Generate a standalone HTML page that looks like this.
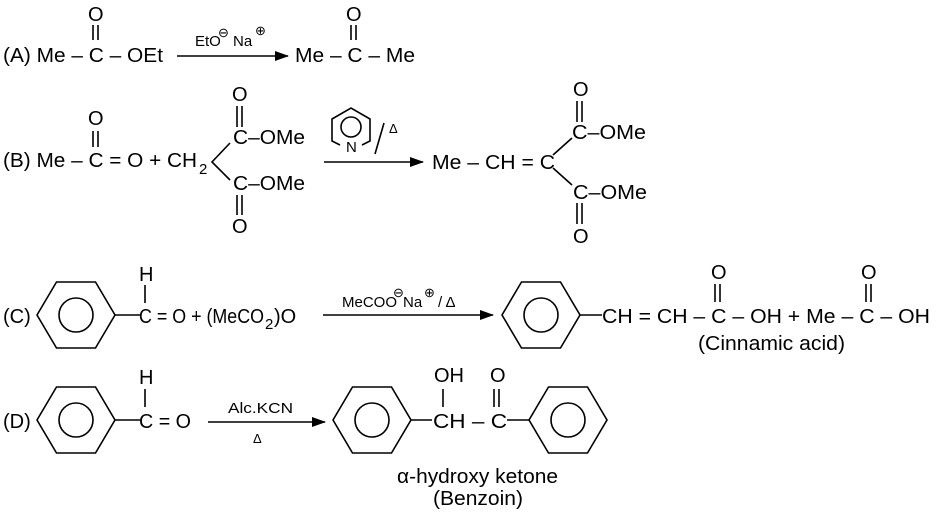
<!DOCTYPE html>
<html><head><meta charset="utf-8"><style>
body{margin:0;background:#fff}
svg{display:block}
text{font-family:"Liberation Sans",sans-serif;fill:#000}
.m{font-size:20px}
.s{font-size:15px}
.x{font-size:13px}
</style></head><body>
<svg width="937" height="518" viewBox="0 0 937 518" xmlns="http://www.w3.org/2000/svg">
<defs><marker id="ah" markerWidth="14" markerHeight="10" refX="13" refY="5" orient="auto" markerUnits="userSpaceOnUse"><path d="M0,0 L14,5 L0,10 Z" fill="#000"/></marker></defs>
<g stroke="#000" stroke-width="1.6" fill="none">
<!-- A -->
<line x1="93" y1="25" x2="93" y2="40"/><line x1="98" y1="25" x2="98" y2="40"/>
<line x1="351" y1="25" x2="351" y2="40"/><line x1="356" y1="25" x2="356" y2="40"/>
<line x1="177" y1="56" x2="288" y2="56" marker-end="url(#ah)"/>
<!-- B -->
<line x1="93" y1="131" x2="93" y2="147"/><line x1="98" y1="131" x2="98" y2="147"/>
<line x1="237" y1="106" x2="237" y2="127"/><line x1="242" y1="106" x2="242" y2="127"/>
<line x1="237" y1="195" x2="237" y2="215"/><line x1="242" y1="195" x2="242" y2="215"/>
<polyline points="230,143 212,162 230,180"/>
<polyline points="340,145 332,141 332,119 351,108 370,119 370,141 362,145"/>
<circle cx="351" cy="127" r="10"/>
<line x1="375" y1="154" x2="384" y2="123"/>
<line x1="324" y1="162" x2="423" y2="162" marker-end="url(#ah)"/>
<line x1="577" y1="101" x2="577" y2="122"/><line x1="582" y1="101" x2="582" y2="122"/>
<line x1="577" y1="203" x2="577" y2="224"/><line x1="582" y1="203" x2="582" y2="224"/>
<line x1="553" y1="155" x2="572" y2="138"/><line x1="553" y1="168" x2="572" y2="185"/>
<!-- C -->
<polygon points="37,315 56.5,282 95.5,282 115,315 95.5,348 56.5,348"/>
<circle cx="76" cy="315" r="17"/>
<line x1="115" y1="315" x2="140" y2="315"/>
<line x1="145" y1="285" x2="145" y2="303"/>
<line x1="323" y1="315" x2="493" y2="315" marker-end="url(#ah)"/>
<polygon points="502,315 521.5,282 560.5,282 580,315 560.5,348 521.5,348"/>
<circle cx="541" cy="315" r="17"/>
<line x1="580" y1="315" x2="602" y2="315"/>
<line x1="715" y1="284" x2="715" y2="302"/><line x1="720" y1="284" x2="720" y2="302"/>
<line x1="866" y1="284" x2="866" y2="302"/><line x1="871" y1="284" x2="871" y2="302"/>
<!-- D -->
<polygon points="37,420 56.5,387 95.5,387 115,420 95.5,453 56.5,453"/>
<circle cx="76" cy="420" r="17"/>
<line x1="115" y1="420" x2="140" y2="420"/>
<line x1="145" y1="389" x2="145" y2="407"/>
<line x1="208" y1="422" x2="325" y2="422" marker-end="url(#ah)"/>
<polygon points="333,420 352.5,387 391.5,387 411,420 391.5,453 352.5,453"/>
<circle cx="372" cy="420" r="17"/>
<line x1="411" y1="420" x2="432" y2="420"/>
<line x1="443" y1="389" x2="443" y2="407"/>
<line x1="494" y1="389" x2="494" y2="407"/><line x1="499" y1="389" x2="499" y2="407"/>
<line x1="507" y1="420" x2="529" y2="420"/>
<polygon points="529,420 548.5,387 587.5,387 607,420 587.5,453 548.5,453"/>
<circle cx="568" cy="420" r="17"/>
</g>
<!-- A text -->
<text class="m" x="3" y="62" textLength="160" lengthAdjust="spacingAndGlyphs">(A) Me – C – OEt</text>
<text class="m" x="88" y="21">O</text>
<text class="m" x="346" y="21">O</text>
<text class="m" x="295" y="62" textLength="120" lengthAdjust="spacingAndGlyphs">Me – C – Me</text>
<text class="s" x="195" y="46">EtO</text><text class="x" x="218" y="37">⊖</text>
<text class="s" x="233" y="46">Na</text><text class="x" x="255" y="35">⊕</text>
<!-- B text -->
<text class="m" x="3" y="167" textLength="194" lengthAdjust="spacingAndGlyphs">(B) Me – C = O + CH</text>
<text class="s" x="199" y="174">2</text>
<text class="m" x="88" y="125">O</text>
<text class="m" x="232" y="101">O</text>
<text class="m" x="233" y="144" textLength="72" lengthAdjust="spacingAndGlyphs">C–OMe</text>
<text class="m" x="233" y="190" textLength="72" lengthAdjust="spacingAndGlyphs">C–OMe</text>
<text class="m" x="232" y="233">O</text>
<text class="s" x="346" y="152">N</text>
<text class="x" x="389" y="133">Δ</text>
<text class="m" x="432" y="169" textLength="123" lengthAdjust="spacingAndGlyphs">Me – CH = C</text>
<text class="m" x="573" y="96">O</text>
<text class="m" x="572" y="139" textLength="74" lengthAdjust="spacingAndGlyphs">C–OMe</text>
<text class="m" x="573" y="199" textLength="74" lengthAdjust="spacingAndGlyphs">C–OMe</text>
<text class="m" x="573" y="243">O</text>
<!-- C text -->
<text class="m" x="3" y="323">(C)</text>
<text class="m" x="139" y="281">H</text>
<text class="m" x="139" y="323" textLength="125" lengthAdjust="spacingAndGlyphs">C = O + (MeCO</text>
<text class="s" x="265" y="329">2</text>
<text class="m" x="274" y="323">)O</text>
<text class="s" x="342" y="307">MeCOO</text><text class="x" x="393" y="297">⊖</text>
<text class="s" x="403" y="307">Na</text><text class="x" x="424" y="297">⊕</text>
<text class="s" x="438" y="307">/ Δ</text>
<text class="m" x="602" y="323" textLength="328" lengthAdjust="spacingAndGlyphs">CH = CH – C – OH + Me – C – OH</text>
<text class="m" x="711" y="279">O</text>
<text class="m" x="861" y="279">O</text>
<text class="m" x="698" y="350" textLength="147" lengthAdjust="spacingAndGlyphs">(Cinnamic acid)</text>
<!-- D text -->
<text class="m" x="3" y="428">(D)</text>
<text class="m" x="139" y="384">H</text>
<text class="m" x="139" y="428" textLength="52" lengthAdjust="spacingAndGlyphs">C = O</text>
<text class="s" x="228" y="413" textLength="65" lengthAdjust="spacingAndGlyphs">Alc.KCN</text>
<text class="x" x="253" y="443">Δ</text>
<text class="m" x="433" y="428" textLength="74" lengthAdjust="spacingAndGlyphs">CH – C</text>
<text class="m" x="434" y="382">OH</text>
<text class="m" x="490" y="382">O</text>
<text class="m" x="397" y="483" textLength="161" lengthAdjust="spacingAndGlyphs">α-hydroxy ketone</text>
<text class="m" x="433" y="505" textLength="90" lengthAdjust="spacingAndGlyphs">(Benzoin)</text>
</svg>
</body></html>
